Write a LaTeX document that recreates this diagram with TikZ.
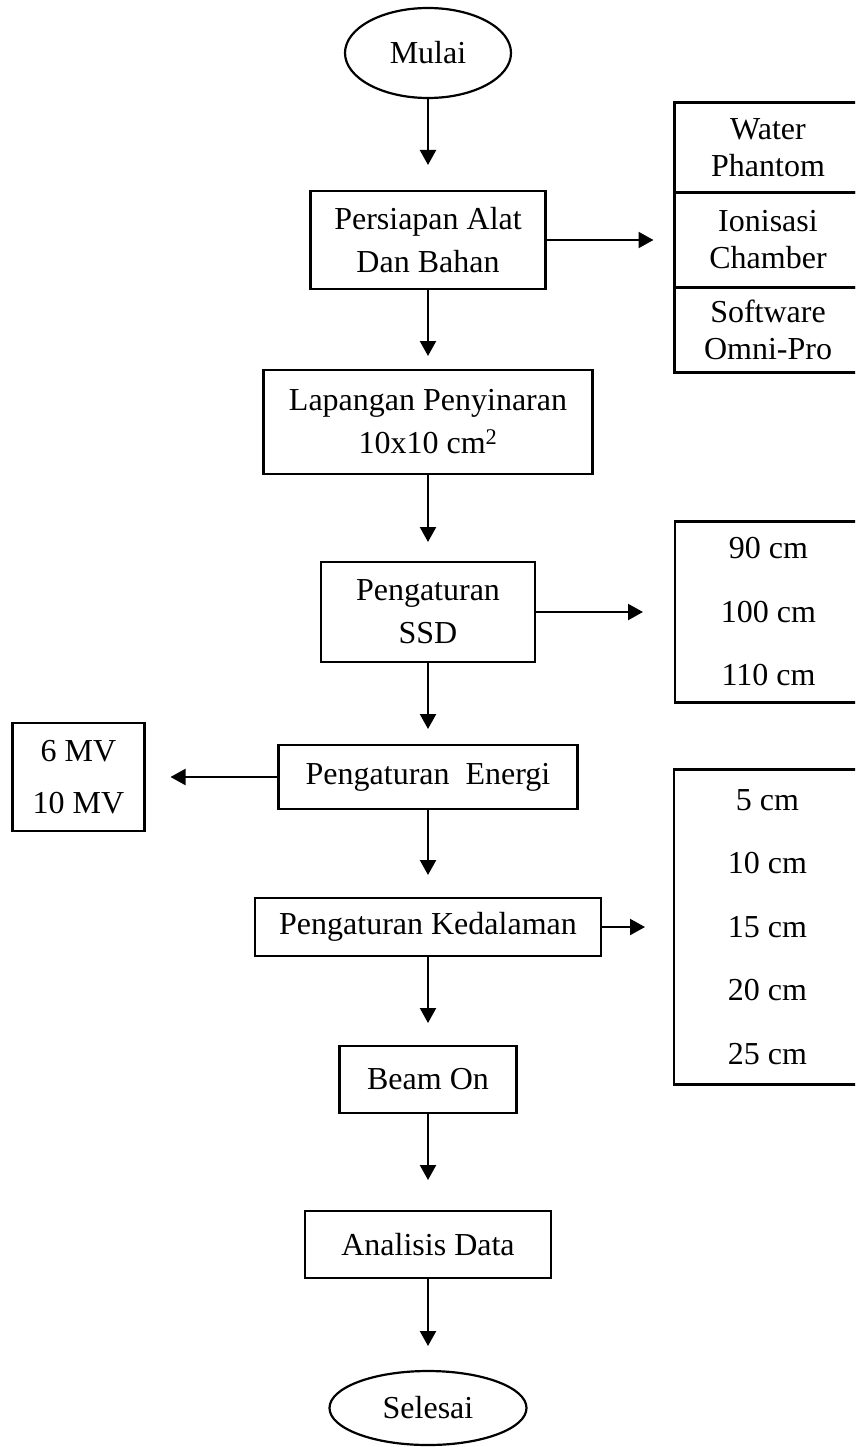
\documentclass[tikz,border=0pt]{standalone}
\usepackage{fontspec}
\setmainfont{Liberation Serif}
\usetikzlibrary{shapes.geometric, arrows.meta, positioning}

\begin{document}
\begin{tikzpicture}[
    x=1pt, y=1pt,
    node distance=88pt and 130pt,
    every node/.style={font=\fontsize{32}{43}\selectfont},
    box/.style={draw, rectangle, align=center, inner sep=0pt, outer sep=0pt, line width=2.2pt},
    term/.style={draw, ellipse, inner sep=0pt, outer sep=0pt, line width=2.2pt},
    cell/.style={box, minimum width=187pt, font=\fontsize{32}{37}\selectfont},
    list/.style={box, minimum width=187pt, font=\fontsize{32}{63.5}\selectfont},
    arrow/.style={-{Triangle[length=15pt,width=16pt]}, line width=2.2pt}
]
\useasboundingbox (0,0) rectangle (855,-1447);
\clip (0,0) rectangle (855,-1447);

% main flow
\node (start) [term, minimum width=166pt, minimum height=90pt] at (428,-53) {Mulai};
\node (prep) [box, minimum width=235pt, minimum height=98pt, below=93pt of start] {Persiapan Alat\\Dan Bahan};
\node (field) [box, minimum width=329pt, minimum height=104pt, below=81pt of prep] {Lapangan Penyinaran\\10x10 cm\textsuperscript{2}};
\node (ssd) [box, minimum width=214pt, minimum height=100pt, below=88pt of field] {Pengaturan\\SSD};
\node (energy) [box, minimum width=299pt, minimum height=64pt, below=83pt of ssd] {Pengaturan~~Energi};
\node (depth) [box, minimum width=346pt, minimum height=58pt, below=89pt of energy] {Pengaturan Kedalaman};
\node (beam) [box, minimum width=177pt, minimum height=67pt, below=90pt of depth] {Beam On};
\node (analysis) [box, minimum width=246pt, minimum height=67pt, below=98pt of beam] {Analisis Data};
\node (finish) [term, minimum width=197pt, minimum height=74pt, below=93pt of analysis] {Selesai};

% side lists
\node (tool2) [cell, minimum height=95pt, right=129pt of prep] {Ionisasi\\Chamber};
\node (tool1) [cell, minimum height=90pt, above=0pt of tool2] {Water\\Phantom};
\node (tool3) [cell, minimum height=85pt, below=0pt of tool2] {Software\\Omni-Pro};
\node (ssdval) [list, minimum height=181pt, right=140pt of ssd] {90 cm\\100 cm\\110 cm};
\node (mv) [box, minimum width=132pt, minimum height=108pt, font=\fontsize{32}{52}\selectfont, left=134pt of energy] {6 MV\\10 MV};
\node (depthval) [list, minimum height=315pt, right=73pt of depth] {5 cm\\10 cm\\15 cm\\20 cm\\25 cm};

\draw [arrow, shorten >=26pt] (start) -- (prep);
\draw [arrow, shorten >=14pt] (prep) -- (field);
\draw [arrow, shorten >=20pt] (field) -- (ssd);
\draw [arrow, shorten >=16pt] (ssd) -- (energy);
\draw [arrow, shorten >=23pt] (energy) -- (depth);
\draw [arrow, shorten >=23pt] (depth) -- (beam);
\draw [arrow, shorten >=31pt] (beam) -- (analysis);
\draw [arrow, shorten >=25pt] (analysis) -- (finish);

\draw [arrow, shorten >=21pt] (prep) -- (tool2);
\draw [arrow, shorten >=32pt] (ssd) -- (ssdval);
\draw [arrow, shorten >=26pt] (energy) -- (mv);
\draw [arrow, shorten >=29pt] (depth) -- (depthval);

\end{tikzpicture}
\end{document}
